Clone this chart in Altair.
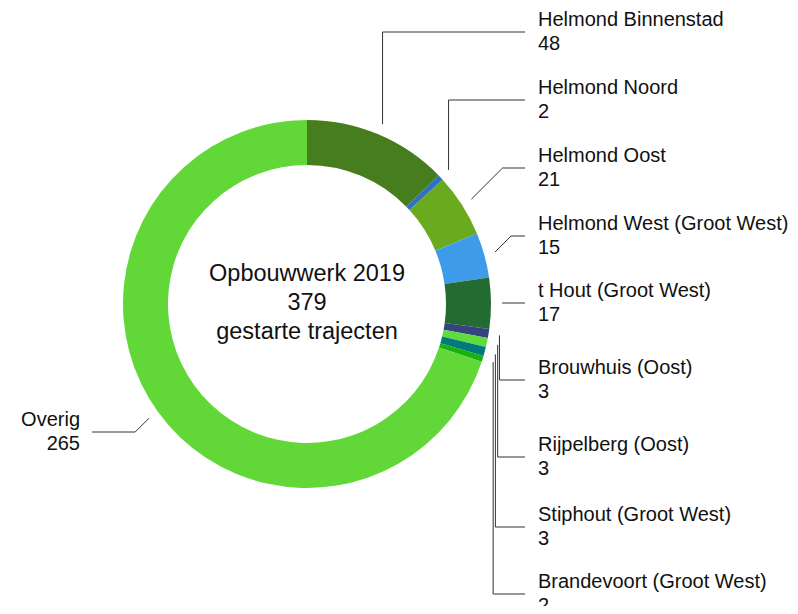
import math
import altair as alt
import pandas as pd

# ---- data ----
names = ["Helmond Binnenstad", "Helmond Noord", "Helmond Oost", "Helmond West (Groot West)",
         "t Hout (Groot West)", "Brouwhuis (Oost)", "Rijpelberg (Oost)",
         "Stiphout (Groot West)", "Brandevoort (Groot West)", "Overig"]
values = [48, 2, 21, 15, 17, 3, 3, 3, 2, 265]
colors = ["#467e1e", "#2f72c4", "#6aaa1e", "#3d9be9", "#236b30",
          "#35437e", "#5fdc3b", "#027a7a", "#18b10f", "#62d738"]
center_lines = ["Opbouwwerk 2019", "379", "gestarte trajecten"]

# ---- layout ----
W, H = 782, 598
OFF = 8                     # page margin: work in page coordinates
CX, CY = 307, 304
R_OUT, R_IN = 184, 139
R_ANCHOR = 195
label_line_y = [32, 100, 168, 236, 303, 380, 457, 527, 594, 432]
RIGHT_END, RIGHT_TEXT = 525, 538
LEFT_END, LEFT_TEXT = 92, 80

total = sum(values)
df = pd.DataFrame({"name": names, "value": values, "idx": list(range(len(names)))})

# leader lines and labels derived from the data
line_rows, text_rows = [], []
cum = 0
for i, (n, v) in enumerate(zip(names, values)):
    mid = (cum + v / 2) / total * 2 * math.pi
    cum += v
    ax = CX + R_ANCHOR * math.sin(mid)
    ay = CY - R_ANCHOR * math.cos(mid)
    ly = label_line_y[i]
    right = ax >= CX
    dy = ly - ay
    if abs(dy) < 40:
        ex = ax + abs(dy) if right else ax - abs(dy)
    else:
        ex = ax
    end = RIGHT_END if right else LEFT_END
    for k, (px, py) in enumerate([(ax, ay), (ex, ly), (end, ly)]):
        line_rows.append({"key": n, "ord": k, "x": px, "y": py})
    tx = RIGHT_TEXT if right else LEFT_TEXT
    al = "left" if right else "right"
    text_rows.append({"t": n, "x": tx, "y": ly - 12, "align": al})
    text_rows.append({"t": str(v), "x": tx, "y": ly + 12, "align": al})

lines_df = pd.DataFrame(line_rows)
text_df = pd.DataFrame(text_rows)
center_df = pd.DataFrame({"t": center_lines, "x": [CX] * 3, "y": [274, 303, 332]})

xs = alt.Scale(domain=[OFF, OFF + W], range=[0, W])
ys = alt.Scale(domain=[OFF, OFF + H], range=[0, H])
FONT = "Liberation Sans"

arc = alt.Chart(df).mark_arc(outerRadius=R_OUT, innerRadius=R_IN).encode(
    theta=alt.Theta("value:Q", stack=True),
    order=alt.Order("idx:Q", sort="ascending"),
    color=alt.Color("name:N", scale=alt.Scale(domain=names, range=colors), legend=None),
    x=alt.value(CX - OFF),
    y=alt.value(CY - OFF),
)

leaders = alt.Chart(lines_df).mark_line(color="#333333", strokeWidth=1).encode(
    x=alt.X("x:Q", scale=xs, axis=None),
    y=alt.Y("y:Q", scale=ys, axis=None),
    detail="key:N",
    order="ord:Q",
)

labels_r = alt.Chart(text_df[text_df["align"] == "left"]).mark_text(
    align="left", baseline="middle", fontSize=20, font=FONT, color="#111111"
).encode(x=alt.X("x:Q", scale=xs, axis=None), y=alt.Y("y:Q", scale=ys, axis=None), text="t:N")

labels_l = alt.Chart(text_df[text_df["align"] == "right"]).mark_text(
    align="right", baseline="middle", fontSize=20, font=FONT, color="#111111"
).encode(x=alt.X("x:Q", scale=xs, axis=None), y=alt.Y("y:Q", scale=ys, axis=None), text="t:N")

center = alt.Chart(center_df).mark_text(
    align="center", baseline="middle", fontSize=23.5, font=FONT, color="#111111"
).encode(x=alt.X("x:Q", scale=xs, axis=None), y=alt.Y("y:Q", scale=ys, axis=None), text="t:N")

chart = alt.layer(arc, leaders, labels_r, labels_l, center).properties(
    width=W, height=H, padding=0, autosize=alt.AutoSizeParams(type="none")
).configure_view(stroke=None)

chart.save("out.html", embed_options={"renderer": "svg", "actions": False})
